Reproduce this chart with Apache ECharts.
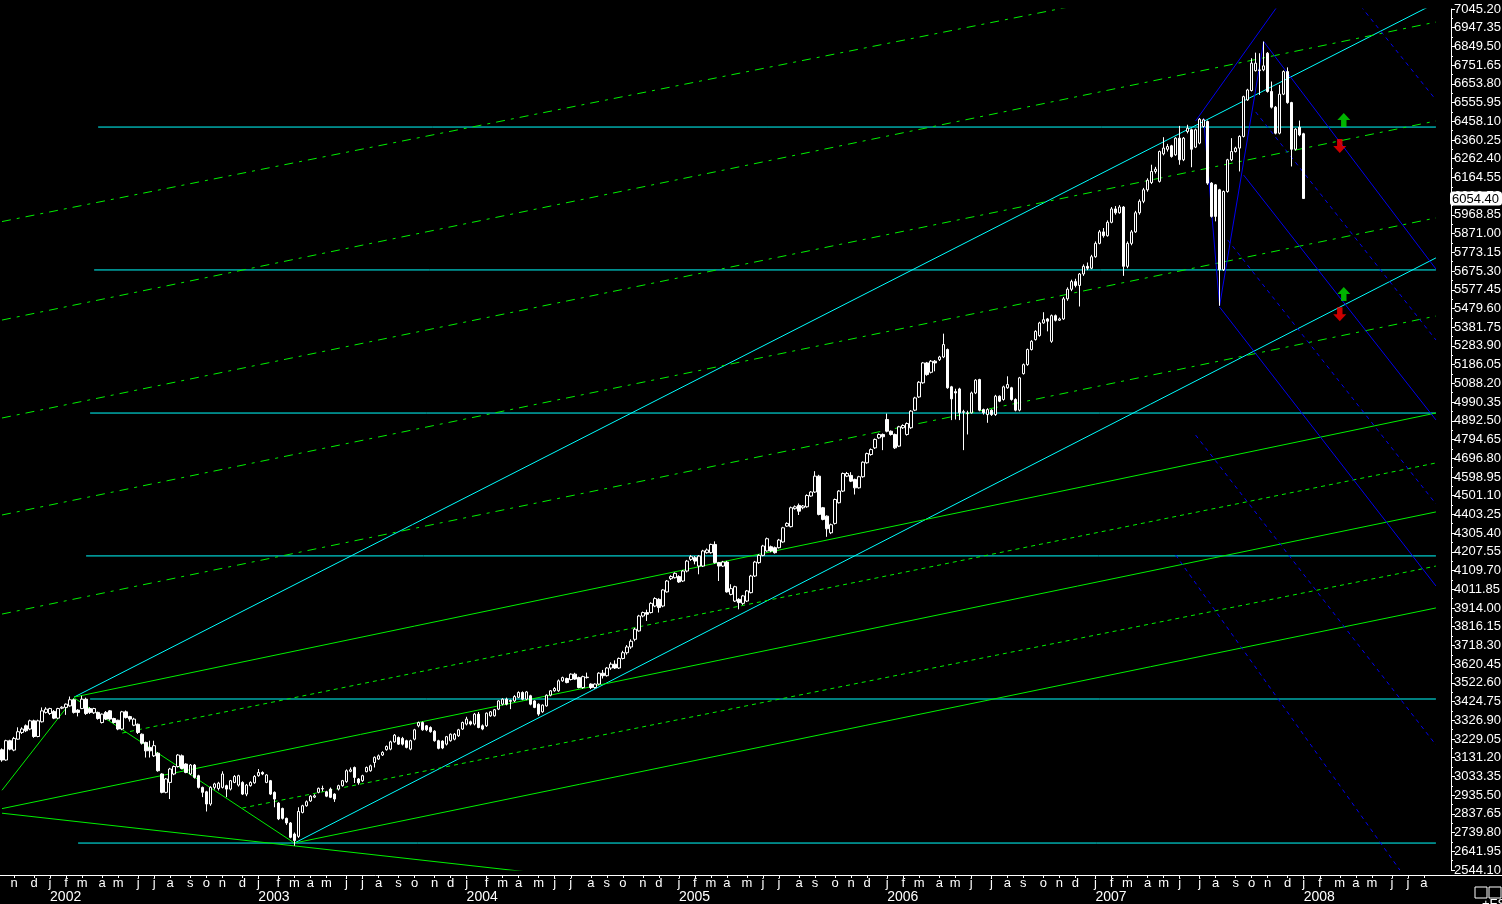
<!DOCTYPE html>
<html><head><meta charset="utf-8">
<script src="https://cdn.jsdelivr.net/npm/echarts@6/dist/echarts.min.js"></script>
<style>html,body{margin:0;padding:0;background:#000;}#c{width:1502px;height:904px;}</style>
</head><body><div id="c"></div>
<script>
// ---- weekly categories (Friday of each week) ----
const firstWeek = '2001-10-12';
const weekCount = 375;
const monthLetters = ['j','f','m','a','m','j','j','a','s','o','n','d'];
const lastLabelIndex = 357;
// ---- y-axis ticks ----
const yMin = 2544.10, yMax = 7045.20, yStep = 97.85;
const lastPrice = 6054.40;
// ---- weekly OHLC  [open, close, low, high] ----
const ohlc = [
[3173,3119,3110,3180],[3119,3220,3115,3225],[3220,3176,3170,3225],[3171,3232,3165,3240],[3228,3267,3225,3290],
[3263,3281,3255,3290],[3298,3272,3265,3305],[3281,3324,3275,3330],[3324,3242,3235,3330],[3242,3324,3238,3330],
[3319,3376,3315,3394],[3368,3385,3362,3395],[3362,3388,3355,3392],[3373,3338,3333,3380],[3338,3388,3333,3392],
[3390,3395,3385,3400],[3394,3411,3355,3415],[3402,3434,3398,3451],[3434,3368,3362,3440],[3380,3368,3347,3385],
[3388,3437,3385,3455],[3437,3362,3355,3445],[3388,3368,3360,3395],[3366,3388,3360,3392],[3368,3336,3330,3372],
[3315,3359,3310,3362],[3368,3333,3328,3375],[3376,3333,3325,3380],[3336,3315,3310,3340],[3327,3281,3275,3330],
[3281,3371,3275,3376],[3371,3341,3336,3378],[3346,3333,3320,3350],[3301,3333,3296,3340],[3306,3263,3255,3310],
[3254,3207,3200,3258],[3211,3167,3132,3215],[3185,3167,3132,3220],[3141,3194,3135,3220],[3155,3063,3058,3160],
[3046,2950,2945,3050],[2950,3020,2945,3025],[3002,3072,2915,3078],[3046,3085,3040,3090],[3085,3145,3080,3150],
[3141,3075,3070,3148],[3098,3054,3050,3102],[3046,3093,3040,3098],[3093,3028,3022,3098],[3037,2976,2970,3042],
[2976,2950,2925,2980],[2953,2889,2850,2958],[2889,2976,2880,2982],[2976,2994,2965,3000],[2970,2998,2960,3005],
[2976,3046,2970,3060],[2985,2967,2925,2990],[2967,3011,2960,3015],[3002,3033,2998,3040],[2988,3037,2980,3042],
[3002,2941,2936,3008],[2941,2988,2930,2994],[2985,3002,2980,3008],[3000,3033,2995,3040],[3037,3054,3032,3072],
[3054,3046,3040,3060],[3002,3041,2998,3045],[3011,2941,2936,3015],[2950,2915,2872,2955],[2894,2811,2805,2898],
[2866,2814,2808,2870],[2814,2790,2780,2818],[2790,2715,2710,2795],[2732,2698,2671,2740],[2720,2850,2712,2872],
[2845,2880,2840,2885],[2880,2901,2875,2908],[2905,2930,2900,2935],[2925,2932,2920,2940],[2950,2971,2945,2975],
[2968,2970,2955,2985],[2953,2930,2925,2958],[2967,2924,2920,2975],[2941,2915,2900,2945],[2967,2985,2960,2990],
[2985,3011,2980,3015],[3006,3063,3000,3070],[3060,3068,3055,3080],[3080,3028,2999,3085],[3020,3000,2990,3025],
[3011,3037,3005,3042],[3058,3080,3055,3085],[3063,3089,3058,3095],[3106,3133,3080,3138],[3124,3141,3120,3148],
[3145,3159,3140,3165],[3173,3190,3168,3195],[3176,3214,3170,3220],[3214,3249,3210,3255],[3237,3202,3198,3242],
[3232,3202,3195,3240],[3220,3185,3180,3225],[3176,3220,3170,3225],[3228,3277,3222,3282],[3298,3315,3290,3320],
[3315,3277,3272,3320],[3298,3277,3270,3302],[3289,3267,3262,3295],[3270,3220,3215,3275],[3220,3180,3175,3225],
[3218,3182,3176,3222],[3202,3241,3195,3245],[3220,3254,3215,3258],[3228,3254,3222,3260],[3246,3277,3240,3282],
[3281,3315,3276,3320],[3307,3333,3300,3345],[3319,3307,3300,3325],[3307,3359,3300,3365],[3359,3289,3285,3370],
[3298,3281,3275,3305],[3298,3364,3292,3368],[3350,3371,3345,3375],[3350,3382,3346,3386],[3385,3428,3380,3432],
[3411,3437,3405,3442],[3437,3411,3405,3445],[3430,3426,3385,3435],[3428,3451,3422,3458],[3447,3472,3442,3478],
[3472,3437,3432,3478],[3437,3475,3432,3480],[3455,3411,3405,3460],[3428,3394,3390,3432],[3411,3359,3350,3415],
[3371,3406,3366,3410],[3402,3458,3398,3462],[3458,3481,3452,3485],[3481,3493,3476,3500],[3481,3533,3476,3540],
[3533,3550,3528,3555],[3545,3524,3520,3550],[3540,3568,3535,3572],[3568,3542,3538,3575],[3550,3498,3494,3555],
[3498,3555,3492,3560],[3550,3552,3545,3576],[3516,3498,3490,3520],[3498,3516,3492,3520],[3516,3573,3510,3578],
[3573,3560,3545,3590],[3560,3600,3555,3605],[3600,3620,3590,3630],[3620,3600,3595,3640],[3600,3650,3595,3655],
[3650,3680,3645,3690],[3680,3710,3670,3720],[3710,3740,3700,3750],[3750,3803,3740,3810],[3794,3872,3790,3878],
[3872,3890,3865,3895],[3890,3881,3846,3905],[3890,3938,3885,3944],[3924,3963,3918,3970],[3959,3916,3890,3965],
[3924,4008,3918,4012],[3998,4055,3994,4060],[4067,4078,4060,4085],[4072,4095,4068,4100],[4078,4050,4045,4085],
[4055,4107,4050,4112],[4107,4159,4100,4165],[4168,4182,4160,4190],[4177,4159,4142,4185],[4133,4185,4090,4190],
[4133,4212,4128,4218],[4203,4217,4198,4225],[4203,4246,4198,4250],[4246,4151,4146,4262],[4151,4133,4055,4155],
[4133,4154,4128,4160],[4154,3998,3994,4160],[3985,4015,3980,4038],[3950,4025,3945,4030],[3959,3942,3907,3965],
[3938,3977,3930,3982],[3950,4003,3945,4008],[3994,4081,3990,4087],[4081,4154,4076,4160],[4151,4189,4145,4195],
[4189,4238,4184,4244],[4212,4276,4208,4282],[4234,4212,4205,4240],[4229,4203,4198,4235],[4229,4269,4225,4275],
[4259,4333,4255,4338],[4342,4356,4338,4362],[4339,4438,4335,4444],[4433,4443,4428,4450],[4450,4420,4400,4460],
[4438,4447,4430,4452],[4443,4502,4438,4508],[4499,4520,4495,4525],[4520,4603,4515,4629],[4603,4403,4398,4610],
[4438,4377,4372,4442],[4394,4328,4286,4398],[4307,4349,4300,4355],[4356,4481,4350,4486],[4464,4525,4460,4530],
[4525,4617,4520,4622],[4603,4617,4598,4625],[4607,4577,4572,4624],[4586,4542,4507,4590],[4542,4600,4538,4605],
[4600,4676,4595,4680],[4673,4721,4668,4726],[4716,4742,4710,4748],[4751,4795,4745,4800],[4803,4821,4798,4826],
[4821,4809,4739,4826],[4899,4838,4832,4930],[4838,4821,4815,4842],[4821,4751,4745,4826],[4760,4861,4755,4866],
[4856,4868,4850,4874],[4821,4878,4815,4884],[4856,4943,4850,4948],[4948,5012,4943,5018],[5017,5094,5012,5100],
[5091,5195,5086,5200],[5195,5134,5128,5200],[5146,5204,5140,5210],[5204,5195,5151,5210],[5212,5226,5205,5232],
[5226,5291,5220,5348],[5265,5065,5060,5270],[5070,5007,4896,5075],[5045,5038,4899,5060],[5059,4934,4896,5065],
[4940,4937,4739,4950],[4930,4934,4821,4945],[4934,5038,4930,5045],[5038,5105,5032,5110],[5108,4948,4942,5112],
[4951,4934,4925,4956],[4925,4951,4882,4958],[4948,4925,4918,4952],[4925,5021,4918,5028],[5021,4995,4990,5025],
[5004,5070,4998,5076],[5065,5082,5060,5125],[5065,5004,4998,5070],[5004,4948,4942,5010],[4948,5117,4942,5122],
[5139,5186,5134,5192],[5186,5265,5180,5270],[5265,5308,5260,5314],[5317,5360,5312,5366],[5338,5404,5332,5410],
[5404,5421,5400,5460],[5425,5413,5360,5430],[5308,5442,5300,5448],[5442,5418,5412,5448],[5418,5425,5414,5432],
[5425,5530,5420,5540],[5530,5580,5520,5590],[5580,5620,5570,5630],[5620,5600,5590,5635],[5600,5660,5490,5665],
[5660,5700,5650,5710],[5700,5690,5680,5720],[5690,5750,5685,5760],[5750,5820,5745,5830],[5820,5880,5815,5890],
[5880,5860,5850,5900],[5860,5930,5855,5940],[5930,6000,5925,6010],[6000,5980,5970,6015],[5980,6010,5975,6020],
[6010,5700,5650,6015],[5700,5820,5690,5830],[5820,5880,5810,5890],[5880,5980,5875,5990],[5980,6040,5970,6050],
[6040,6100,6030,6110],[6100,6150,6090,6160],[6138,6196,6130,6231],[6196,6208,6185,6220],[6144,6300,6138,6305],
[6288,6318,6280,6375],[6312,6326,6300,6340],[6330,6274,6268,6335],[6283,6370,6278,6375],[6370,6257,6231,6434],
[6257,6370,6250,6376],[6405,6422,6395,6440],[6414,6312,6218,6420],[6323,6414,6318,6420],[6344,6469,6338,6475],
[6431,6466,6425,6472],[6457,6135,6126,6462],[6135,5961,5955,6140],[6126,5961,5935,6130],[6100,5682,5494,6105],
[5682,6091,5676,6096],[6091,6257,6085,6262],[6257,6300,6250,6370],[6300,6318,6295,6325],[6318,6379,6196,6385],
[6379,6587,6374,6592],[6570,6622,6565,6628],[6619,6762,6614,6788],[6723,6762,6718,6817],[6723,6727,6596,6814],
[6727,6748,6720,6875],[6814,6614,6608,6820],[6614,6532,6525,6666],[6532,6396,6390,6538],[6396,6600,6390,6648],
[6600,6718,6595,6724],[6718,6556,6550,6740],[6556,6312,6222,6560],[6312,6417,6305,6422],[6427,6387,6380,6462],
[6393,6054.4,6054.4,6398]
];
// ---- drawn lines: [[weekIndex, value], [weekIndex, value], ...] ----
const cyanLevels = [ // [fromWeek, toWeek, level]
  [24,358,6428],[23,358,5681],[22,358,4933],[21,358,4186],[22,358,3438],[19,358,2685]
];
const cyanTrends = [
  [[18,3448],[357,7066]],
  [[73,2685],[358,5744]]
];
const greenSolid = [
  [[0,2961],[18,3444]],
  [[18,3444],[73,2685]],
  [[0,2841],[138,2518]],
  [[18,3448],[358,4933]],
  [[0,2865],[358,4416]],
  [[73,2685],[358,3914]]
];
const greenDashed = [
  [[0,5934],[358,7442]],
  [[0,5419],[358,6977]],
  [[0,4907],[358,6460]],
  [[0,4400],[358,5953]],
  [[0,3882],[358,5440]]
];
const greenDotted = [
  [[30,3260],[358,4672]],
  [[60,2868],[358,4133]]
];
const blueSolid = [
  [[298,6460],[320,7105]],
  [[300,6475],[304,5494],[315,6875]],
  [[315,6875],[358,5686]],
  [[310,6177],[358,4897]],
  [[304,5487],[358,4029]]
];
const blueDashed = [
  [[313,6507],[358,5315]],
  [[338,7092],[358,6570]],
  [[298,4818],[358,3198]],
  [[293,4191],[349,2544]],
  [[306,5838],[358,4458]]
];
const upArrows = [[335,6465],[335,5555]];
const downArrows = [[334,6329],[334,5450]];

// ---------------------------------------------------------------
function pad(n){return (n<10?'0':'')+n;}
const start = new Date(firstWeek+'T00:00:00Z').getTime();
const dates = [];
for (let k=0;k<weekCount;k++){const d=new Date(start+k*7*86400000);dates.push(d.getUTCFullYear()+'-'+pad(d.getUTCMonth()+1)+'-'+pad(d.getUTCDate()));}
function isMonthStart(idx){ if(idx>lastLabelIndex) return false; const day=+dates[idx].slice(8,10); return day<=7; }
function isYearStart(idx){ return isMonthStart(idx) && dates[idx].slice(5,7)==='01'; }

const FONT = "'Liberation Sans',Arial,sans-serif";
const series = [];
function addLine(pts, color, type, z){
  series.push({type:'line', data:pts, symbol:'none', silent:true, animation:false, clip:true, z:z||2,
    lineStyle:{color:color, width:1, type:type||'solid'}});
}
cyanLevels.forEach(l=>addLine([[l[0],l[2]],[l[1],l[2]]],'#00ffff'));
cyanTrends.forEach(p=>addLine(p,'#00ffff'));
greenSolid.forEach(p=>addLine(p,'#00f000'));
greenDashed.forEach(p=>addLine(p,'#00f000',[9,6,3,6]));
greenDotted.forEach(p=>addLine(p,'#00f000',[4,4]));
blueSolid.forEach(p=>addLine(p,'#0000f0'));
blueDashed.forEach(p=>addLine(p,'#0000f0',[4,4]));

series.push({type:'candlestick', data:ohlc, barWidth:3, z:5, silent:true, animation:false,
  itemStyle:{color:'#000', color0:'#fff', borderColor:'#fff', borderColor0:'#fff', borderWidth:1}});
series.push({type:'scatter', data:upArrows, symbol:'path://M6,0 L12,7 L8.5,7 L8.5,14 L3.5,14 L3.5,7 L0,7 Z',
  symbolSize:[13,14], itemStyle:{color:'#00e000'}, z:6, silent:true, animation:false});
series.push({type:'scatter', data:downArrows, symbol:'path://M3.5,0 L8.5,0 L8.5,7 L12,7 L6,14 L0,7 L3.5,7 Z',
  symbolSize:[13,14], itemStyle:{color:'#ff0000'}, z:6, silent:true, animation:false});

const chart = echarts.init(document.getElementById('c'), null, {renderer:'canvas'});
chart.setOption({
  backgroundColor:'#000',
  animation:false,
  axisPointer:{triggerOn:'none'},
  grid:{left:0, right:0, top:9, bottom:34, containLabel:false, outerBoundsMode:'none'},
  xAxis:[{
    type:'category', data:dates, position:'bottom', offset:5, boundaryGap:true,
    axisLine:{show:true, lineStyle:{color:'#fff', width:1}},
    axisTick:{show:true, length:3, alignWithLabel:true, interval:(i)=>isMonthStart(i), lineStyle:{color:'#fff'}},
    axisLabel:{show:true, interval:(i)=>isMonthStart(i), color:'#fff', fontFamily:FONT, fontSize:13, margin:2,
      hideOverlap:false, formatter:(v)=>monthLetters[+v.slice(5,7)-1]},
    splitLine:{show:false}
  },{
    type:'category', data:dates, position:'bottom', offset:5, boundaryGap:true,
    axisLine:{show:false}, axisTick:{show:false}, splitLine:{show:false},
    axisLabel:{show:true, interval:(i)=>isYearStart(i), color:'#fff', fontFamily:FONT, fontSize:14, margin:15, align:'left',
      hideOverlap:false, formatter:(v)=>v.slice(0,4)}
  }],
  yAxis:{
    type:'value', position:'right', offset:-51, min:yMin, max:yMax, interval:yStep, scale:true,
    axisLine:{show:true, lineStyle:{color:'#fff'}},
    axisTick:{show:true, length:4, lineStyle:{color:'#fff'}},
    minorTick:{show:true, splitNumber:2, length:2, lineStyle:{color:'#fff'}},
    splitLine:{show:false},
    axisLabel:{color:'#fff', fontFamily:FONT, fontSize:13, margin:3, hideOverlap:false, formatter:(v)=>v.toFixed(2)},
    axisPointer:{show:true, value:lastPrice, status:'show', triggerTooltip:false, snap:false,
      lineStyle:{opacity:0},
      label:{show:true, backgroundColor:'#fff', color:'#000', fontFamily:FONT, fontSize:13, padding:[1,3,0,2], margin:3,
        formatter:(p)=>(+p.value).toFixed(2)}}
  },
  graphic:[
    {type:'rect', shape:{x:1475,y:887,width:12,height:11}, style:{fill:'#000', stroke:'#fff', lineWidth:1}},
    {type:'rect', shape:{x:1489,y:887,width:12,height:11}, style:{fill:'#000', stroke:'#fff', lineWidth:1}},
    {type:'text', style:{text:'+FS', x:1482, y:898, fill:'#fff', font:"13px "+FONT}}
  ],
  series:series
});
</script></body></html>
